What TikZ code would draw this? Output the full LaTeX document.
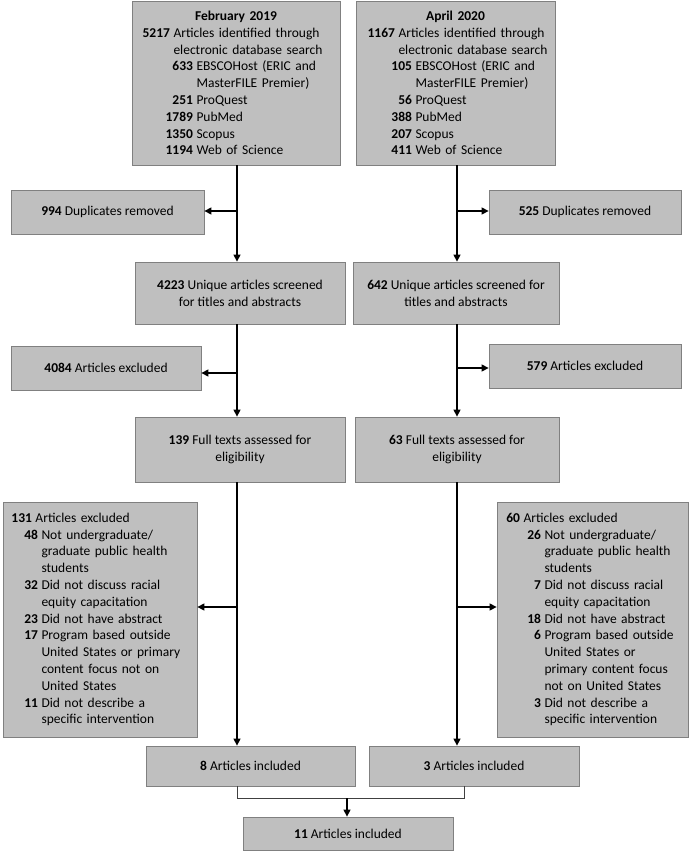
\documentclass[tikz,border=0pt]{standalone}
\usepackage{fontspec}
\setmainfont{Carlito}
\usepackage{tikz}
\usetikzlibrary{arrows.meta}
\definecolor{FlowFill}{RGB}{191,191,191}
\definecolor{FlowEdge}{RGB}{128,128,128}
\newcommand{\flowitem}[3]{\mbox{\makebox[#1][r]{\textbf{#2}}\hspace{3.5pt}#3}}
\newcommand{\flowcont}[2]{\mbox{\hspace{#1}#2}}

\begin{document}
\begin{tikzpicture}[
    x=1pt, y=-1pt,
    font=\fontsize{13.5pt}{16.8pt}\selectfont,
    flowbox/.style={
        draw=FlowEdge,
        fill=FlowFill,
        line width=0.8pt,
        inner sep=0pt,
        align=center
    },
    listbox/.style={flowbox, align=left},
    flowarrow/.style={-{Triangle[length=7pt,width=7pt]}, line width=1.3pt, draw=black},
    joinline/.style={line width=0.7pt, draw=black!75}
]
\useasboundingbox (0,0) rectangle (689,851);

% Search blocks: database hits of the two search rounds.
\node[listbox, minimum width=208pt, minimum height=164pt, text width=188pt] (searchL) at (236,83) {%
\makebox[188pt][c]{\textbf{February 2019}}\\
\flowitem{28pt}{5217}{Articles identified through}\\
\flowcont{31.5pt}{electronic database search}\\
\flowitem{51pt}{633}{EBSCOHost (ERIC and}\\
\flowcont{54.5pt}{MasterFILE Premier)}\\
\flowitem{51pt}{251}{ProQuest}\\
\flowitem{51pt}{1789}{PubMed}\\
\flowitem{51pt}{1350}{Scopus}\\
\flowitem{51pt}{1194}{Web of Science}};

\node[listbox, minimum width=199pt, minimum height=164pt, text width=177pt] (searchR) at (455.5,83) {%
\makebox[177pt][c]{\textbf{April 2020}}\\
\flowitem{28pt}{1167}{Articles identified through}\\
\flowcont{31.5pt}{electronic database search}\\
\flowitem{45pt}{105}{EBSCOHost (ERIC and}\\
\flowcont{48.5pt}{MasterFILE Premier)}\\
\flowitem{45pt}{56}{ProQuest}\\
\flowitem{45pt}{388}{PubMed}\\
\flowitem{45pt}{207}{Scopus}\\
\flowitem{45pt}{411}{Web of Science}};

% Duplicate removal side boxes.
\node[flowbox, minimum width=193pt, minimum height=44pt] (dupL) at (107.5,212) {\textbf{994} Duplicates removed};
\node[flowbox, minimum width=192pt, minimum height=44pt] (dupR) at (585,212) {\textbf{525} Duplicates removed};

% Title and abstract screening.
\node[flowbox, minimum width=210pt, minimum height=62pt] (screenL) at (240,293) {\textbf{4223} Unique articles screened\\for titles and abstracts};
\node[flowbox, minimum width=206pt, minimum height=62pt] (screenR) at (456,293) {\textbf{642} Unique articles screened for\\titles and abstracts};

% Exclusions after screening.
\node[flowbox, minimum width=190pt, minimum height=44pt] (excL) at (106,368) {\textbf{4084} Articles excluded};
\node[flowbox, minimum width=192pt, minimum height=44pt] (excR) at (585,366) {\textbf{579} Articles excluded};

% Full text assessment.
\node[flowbox, minimum width=210pt, minimum height=65pt] (fullL) at (240,449.5) {\textbf{139} Full texts assessed for\\eligibility};
\node[flowbox, minimum width=204pt, minimum height=65pt] (fullR) at (457,449.5) {\textbf{63} Full texts assessed for\\eligibility};

% Full text exclusions with reasons.
\node[listbox, minimum width=194pt, minimum height=235pt, text width=176pt] (reasonL) at (100,619.5) {%
\flowitem{20pt}{131}{Articles excluded}\\
\flowitem{26pt}{48}{Not undergraduate/}\\
\flowcont{29.5pt}{graduate public health}\\
\flowcont{29.5pt}{students}\\
\flowitem{26pt}{32}{Did not discuss racial}\\
\flowcont{29.5pt}{equity capacitation}\\
\flowitem{26pt}{23}{Did not have abstract}\\
\flowitem{26pt}{17}{Program based outside}\\
\flowcont{29.5pt}{United States or primary}\\
\flowcont{29.5pt}{content focus not on}\\
\flowcont{29.5pt}{United States}\\
\flowitem{26pt}{11}{Did not describe a}\\
\flowcont{29.5pt}{specific intervention}};

\node[listbox, minimum width=191pt, minimum height=235pt, text width=173pt] (reasonR) at (592.5,619.5) {%
\flowitem{14pt}{60}{Articles excluded}\\
\flowitem{35pt}{26}{Not undergraduate/}\\
\flowcont{38.5pt}{graduate public health}\\
\flowcont{38.5pt}{students}\\
\flowitem{35pt}{7}{Did not discuss racial}\\
\flowcont{38.5pt}{equity capacitation}\\
\flowitem{35pt}{18}{Did not have abstract}\\
\flowitem{35pt}{6}{Program based outside}\\
\flowcont{38.5pt}{United States or}\\
\flowcont{38.5pt}{primary content focus}\\
\flowcont{38.5pt}{not on United States}\\
\flowitem{35pt}{3}{Did not describe a}\\
\flowcont{38.5pt}{specific intervention}};

% Included articles per round and combined.
\node[flowbox, minimum width=209pt, minimum height=40pt] (inclL) at (250.5,766) {\textbf{8} Articles included};
\node[flowbox, minimum width=210pt, minimum height=40pt] (inclR) at (474,766) {\textbf{3} Articles included};
\node[flowbox, minimum width=210pt, minimum height=33pt] (inclAll) at (348,833.5) {\textbf{11} Articles included};

% Spine and fork points.
\coordinate (spineL) at (237,0);
\coordinate (spineR) at (457,0);
\coordinate (forkL1) at (237,211);
\coordinate (forkL2) at (237,373);
\coordinate (forkL3) at (237,607);
\coordinate (forkR1) at (457,211);
\coordinate (forkR2) at (457,368);
\coordinate (forkR3) at (457,607);
\coordinate (merge) at (347,798);
\coordinate (legR) at (464,798);

% Left column flow.
\draw[flowarrow] (searchL.south -| spineL) -- (screenL.north -| spineL);
\draw[flowarrow] (screenL.south -| spineL) -- (fullL.north -| spineL);
\draw[flowarrow] (fullL.south -| spineL) -- (inclL.north -| spineL);
\draw[flowarrow] (forkL1) -- (forkL1 -| dupL.east);
\draw[flowarrow] (forkL2) -- (forkL2 -| excL.east);
\draw[flowarrow] (forkL3) -- (forkL3 -| reasonL.east);

% Right column flow.
\draw[flowarrow] (searchR.south -| spineR) -- (screenR.north -| spineR);
\draw[flowarrow] (screenR.south -| spineR) -- (fullR.north -| spineR);
\draw[flowarrow] (fullR.south -| spineR) -- (inclR.north -| spineR);
\draw[flowarrow] (forkR1) -- (forkR1 -| dupR.west);
\draw[flowarrow] (forkR2) -- (forkR2 -| excR.west);
\draw[flowarrow] (forkR3) -- (forkR3 -| reasonR.west);

% Merge of both rounds.
\draw[joinline] (inclL.south -| spineL) |- (legR) -- (legR |- inclR.south);
\draw[flowarrow] (merge) -- (inclAll.north -| merge);

\end{tikzpicture}
\end{document}
